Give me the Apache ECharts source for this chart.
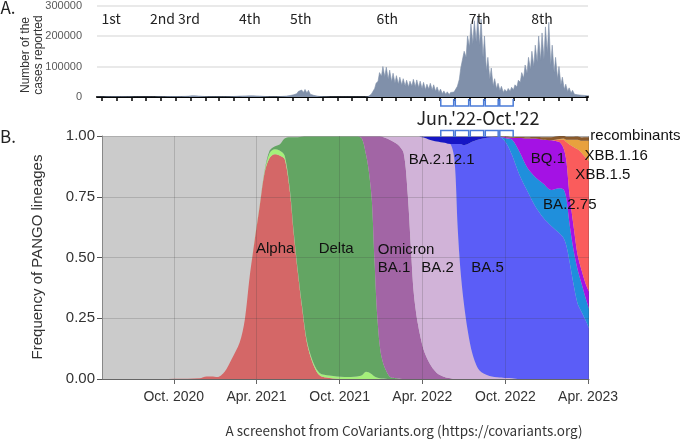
<!DOCTYPE html>
<html>
<head>
<meta charset="utf-8">
<script src="https://cdn.jsdelivr.net/npm/echarts@6/dist/echarts.min.js"></script>
<style>
  html, body { margin: 0; padding: 0; background: #fff; }
  #chart { width: 685px; height: 440px; }
</style>
</head>
<body>
<div id="chart"></div>
<script>
// ---- A. reported cases, one row per week starting on caseStart (thousands) ----
const caseStart = '2020-06-22';
const casesHigh = [
  0.3, 0.4, 0.6, 0.9, 1.1, 1.4, 1.5, 1.4, 1.2, 1.0, 0.8, 0.6, 0.6, 0.6, 0.6, 0.6, 0.7, 0.7, 0.8, 1.0,
  1.6, 2.2, 2.5, 2.5, 2.8, 3.0, 3.5, 4.5, 7.5, 6.5, 5.0, 3.5, 2.5, 1.8, 1.5, 1.3, 1.2, 1.3, 1.5, 1.9,
  2.5, 3.5, 4.5, 5.5, 6.0, 6.5, 7.0, 6.0, 5.0, 3.5, 2.5, 2.0, 1.7, 1.8, 2.5, 3.5, 5.0, 8.0, 12, 18,
  23, 25, 22, 15, 9, 5, 2.5, 1.5, 0.8, 0.5, 0.3, 0.2, 0.2, 0.2, 0.15, 0.15, 0.15, 0.2, 0.3, 0.4,
  2, 15, 45, 80, 100, 98, 88, 78, 70, 65, 60, 55, 52, 58, 56, 52, 48, 42, 45, 40,
  33, 26, 20, 17, 15, 16, 35, 95, 150, 200, 240, 250, 262, 255, 200, 130, 95, 60, 45, 35,
  25, 28, 32, 40, 55, 80, 105, 130, 150, 170, 200, 210, 230, 245, 170, 130, 100, 65, 42, 30,
  22, 15, 12, 10, 8, 6
];
const casesLow = [
  0.2, 0.25, 0.4, 0.6, 0.7, 0.9, 1.0, 0.9, 0.8, 0.6, 0.5, 0.4, 0.4, 0.4, 0.4, 0.4, 0.4, 0.4, 0.5, 0.6,
  1.0, 1.3, 1.5, 1.5, 1.7, 1.8, 2.1, 2.7, 4.5, 4.0, 3.0, 2.1, 1.5, 1.1, 0.9, 0.8, 0.7, 0.8, 0.9, 1.1,
  1.5, 2.1, 2.7, 3.3, 3.6, 3.9, 4.2, 3.6, 3.0, 2.1, 1.5, 1.2, 1.0, 1.1, 1.5, 2.1, 3.0, 4.8, 7, 11,
  14, 15, 13, 9, 5.4, 3, 1.5, 0.9, 0.5, 0.3, 0.2, 0.1, 0.1, 0.1, 0.1, 0.1, 0.1, 0.1, 0.2, 0.2,
  1, 9, 28, 52, 68, 66, 58, 50, 46, 42, 39, 36, 33, 36, 34, 31, 28, 24, 26, 23,
  19, 15, 11, 9, 8, 9, 20, 58, 95, 130, 165, 175, 180, 170, 130, 85, 58, 36, 27, 21,
  15, 17, 19, 24, 33, 48, 62, 78, 90, 100, 115, 120, 125, 145, 105, 80, 60, 40, 25, 18,
  13, 9, 7, 6, 5, 4
];
const waveNames = ['1st', '2nd 3rd', '4th', '5th', '6th', '7th', '8th'];
const waveDates = ['2020-07-21', '2020-11-30', '2021-05-04', '2021-08-17', '2022-02-12', '2022-08-22', '2022-12-29'];
const focusMonths = ['2022-06-01', '2022-07-01', '2022-08-01', '2022-09-01', '2022-10-01', '2022-11-01'];

// ---- B. frequency of PANGO lineages ----
const freqDates = [
  '2020-04-26', '2020-08-09', '2020-11-27', '2020-12-12', '2020-12-23', '2021-01-05', '2021-01-21', '2021-02-05',
  '2021-02-23', '2021-03-06', '2021-03-17', '2021-03-28', '2021-04-08', '2021-04-19', '2021-04-30', '2021-05-11',
  '2021-05-22', '2021-06-02', '2021-06-13', '2021-06-22', '2021-07-01', '2021-07-10', '2021-07-21', '2021-08-03',
  '2021-08-18', '2021-09-09', '2021-10-12', '2021-11-08', '2021-11-19', '2021-11-28', '2021-12-04', '2021-12-11',
  '2021-12-17', '2021-12-24', '2022-01-02', '2022-01-19', '2022-02-06', '2022-02-19', '2022-02-28', '2022-03-07',
  '2022-03-13', '2022-03-22', '2022-04-04', '2022-04-17', '2022-05-03', '2022-05-20', '2022-06-02', '2022-06-11',
  '2022-06-18', '2022-06-24', '2022-07-01', '2022-07-10', '2022-07-21', '2022-08-05', '2022-08-27', '2022-09-18',
  '2022-10-03', '2022-10-16', '2022-11-01', '2022-11-18', '2022-12-06', '2022-12-23', '2023-01-10', '2023-01-28',
  '2023-02-06', '2023-02-12', '2023-02-19', '2023-02-28', '2023-03-09', '2023-03-18', '2023-03-27', '2023-04-03'
];
const alpha = [
  0, 0, 0.003, 0.01, 0.01, 0.008, 0.03, 0.08, 0.15, 0.24, 0.42, 0.57, 0.71, 0.85, 0.91, 0.925,
  0.92, 0.905, 0.78, 0.6, 0.44, 0.3, 0.15, 0.065, 0.015, 0.004, 0, 0, 0, 0, 0, 0,
  0, 0, 0, 0, 0, 0, 0, 0, 0, 0, 0, 0, 0, 0, 0, 0,
  0, 0, 0, 0, 0, 0, 0, 0, 0, 0, 0, 0, 0, 0, 0, 0,
  0, 0, 0, 0, 0, 0, 0, 0
];
const otherDelta = [
  0, 0, 0, 0, 0, 0, 0, 0, 0, 0, 0, 0.003, 0.003, 0.005, 0.02, 0.02,
  0.02, 0.015, 0.01, 0.008, 0.008, 0.008, 0.008, 0.008, 0.01, 0.01, 0.008, 0.01, 0.015, 0.03, 0.028, 0.02,
  0.01, 0.005, 0.002, 0, 0, 0, 0, 0, 0, 0, 0, 0, 0, 0, 0, 0,
  0, 0, 0, 0, 0, 0, 0, 0, 0, 0, 0, 0, 0, 0, 0, 0,
  0, 0, 0, 0, 0, 0, 0, 0
];
const delta = [
  0, 0, 0, 0, 0, 0, 0, 0, 0, 0, 0, 0, 0, 0.003, 0.01, 0.012,
  0.025, 0.07, 0.205, 0.387, 0.547, 0.689, 0.84, 0.925, 0.973, 0.984, 0.99, 0.988, 0.975, 0.895, 0.832, 0.715,
  0.47, 0.225, 0.083, 0.01, 0.002, 0, 0, 0, 0, 0, 0, 0, 0, 0, 0, 0,
  0, 0, 0, 0, 0, 0, 0, 0, 0, 0, 0, 0, 0, 0, 0, 0,
  0, 0, 0, 0, 0, 0, 0, 0
];
const ba1 = [
  0, 0, 0, 0, 0, 0, 0, 0, 0, 0, 0, 0, 0, 0, 0, 0,
  0, 0, 0, 0, 0, 0, 0, 0, 0, 0, 0, 0, 0.008, 0.073, 0.138, 0.263,
  0.518, 0.768, 0.912, 0.975, 0.963, 0.93, 0.76, 0.54, 0.36, 0.23, 0.12, 0.065, 0.025, 0.008, 0.003, 0,
  0, 0, 0, 0, 0, 0, 0, 0, 0, 0, 0, 0, 0, 0, 0, 0,
  0, 0, 0, 0, 0, 0, 0, 0
];
const ba2 = [
  0, 0, 0, 0, 0, 0, 0, 0, 0, 0, 0, 0, 0, 0, 0, 0,
  0, 0, 0, 0, 0, 0, 0, 0, 0, 0, 0, 0, 0, 0, 0, 0,
  0, 0, 0, 0.012, 0.032, 0.067, 0.237, 0.457, 0.637, 0.767, 0.874, 0.92, 0.952, 0.964, 0.964, 0.9,
  0.62, 0.45, 0.32, 0.2, 0.1, 0.035, 0.012, 0.006, 0.004, 0.003, 0, 0, 0, 0, 0, 0,
  0, 0, 0, 0, 0, 0, 0, 0
];
const ba5 = [
  0, 0, 0, 0, 0, 0, 0, 0, 0, 0, 0, 0, 0, 0, 0, 0,
  0, 0, 0, 0, 0, 0, 0, 0, 0, 0, 0, 0, 0, 0, 0, 0,
  0, 0, 0, 0, 0, 0, 0, 0, 0, 0, 0, 0, 0, 0, 0, 0.067,
  0.347, 0.517, 0.642, 0.767, 0.877, 0.952, 0.982, 0.991, 0.966, 0.917, 0.84, 0.775, 0.71, 0.665, 0.63, 0.6,
  0.58, 0.55, 0.485, 0.39, 0.31, 0.275, 0.24, 0.21
];
const ba2121 = [
  0, 0, 0, 0, 0, 0, 0, 0, 0, 0, 0, 0, 0, 0, 0, 0,
  0, 0, 0, 0, 0, 0, 0, 0, 0, 0, 0, 0, 0, 0, 0, 0,
  0, 0, 0, 0, 0, 0, 0, 0, 0, 0, 0.003, 0.012, 0.02, 0.025, 0.03, 0.03,
  0.03, 0.03, 0.035, 0.03, 0.02, 0.01, 0.003, 0, 0, 0, 0, 0, 0, 0, 0, 0,
  0, 0, 0, 0, 0, 0, 0, 0
];
const ba275 = [
  0, 0, 0, 0, 0, 0, 0, 0, 0, 0, 0, 0, 0, 0, 0, 0,
  0, 0, 0, 0, 0, 0, 0, 0, 0, 0, 0, 0, 0, 0, 0, 0,
  0, 0, 0, 0, 0, 0, 0, 0, 0, 0, 0, 0, 0, 0, 0, 0,
  0, 0, 0, 0, 0, 0, 0, 0, 0.02, 0.065, 0.095, 0.095, 0.12, 0.14, 0.148, 0.185,
  0.2, 0.195, 0.155, 0.14, 0.14, 0.115, 0.09, 0.08
];
const bq1 = [
  0, 0, 0, 0, 0, 0, 0, 0, 0, 0, 0, 0, 0, 0, 0, 0,
  0, 0, 0, 0, 0, 0, 0, 0, 0, 0, 0, 0, 0, 0, 0, 0,
  0, 0, 0, 0, 0, 0, 0, 0, 0, 0, 0, 0, 0, 0, 0, 0,
  0, 0, 0, 0, 0, 0, 0, 0, 0.005, 0.008, 0.057, 0.12, 0.16, 0.18, 0.205, 0.19,
  0.17, 0.155, 0.12, 0.1, 0.06, 0.055, 0.06, 0.07
];
const xbb15 = [
  0, 0, 0, 0, 0, 0, 0, 0, 0, 0, 0, 0, 0, 0, 0, 0,
  0, 0, 0, 0, 0, 0, 0, 0, 0, 0, 0, 0, 0, 0, 0, 0,
  0, 0, 0, 0, 0, 0, 0, 0, 0, 0, 0, 0, 0, 0, 0, 0,
  0, 0, 0, 0, 0, 0, 0, 0, 0, 0, 0, 0, 0, 0, 0, 0.01,
  0.035, 0.075, 0.205, 0.325, 0.435, 0.485, 0.52, 0.535
];
const xbb116 = [
  0, 0, 0, 0, 0, 0, 0, 0, 0, 0, 0, 0, 0, 0, 0, 0,
  0, 0, 0, 0, 0, 0, 0, 0, 0, 0, 0, 0, 0, 0, 0, 0,
  0, 0, 0, 0, 0, 0, 0, 0, 0, 0, 0, 0, 0, 0, 0, 0,
  0, 0, 0, 0, 0, 0, 0, 0, 0, 0, 0, 0, 0, 0, 0, 0.003,
  0.005, 0.01, 0.02, 0.03, 0.04, 0.05, 0.07, 0.085
];
const recombinants = [
  0, 0, 0, 0, 0, 0, 0, 0, 0, 0, 0, 0, 0, 0, 0, 0,
  0, 0, 0, 0, 0, 0, 0, 0, 0, 0, 0, 0, 0, 0, 0, 0,
  0, 0, 0, 0, 0, 0, 0, 0, 0, 0, 0, 0, 0, 0, 0, 0,
  0, 0, 0, 0, 0, 0, 0, 0.002, 0.003, 0.003, 0.004, 0.005, 0.006, 0.01, 0.012, 0.012,
  0.01, 0.012, 0.012, 0.012, 0.013, 0.014, 0.015, 0.015
];
const freqTickDates = ['2020-10-01', '2021-04-01', '2021-10-01', '2022-04-01', '2022-10-01', '2023-04-01'];
const freqTickLabels = ['Oct. 2020', 'Apr. 2021', 'Oct. 2021', 'Apr. 2022', 'Oct. 2022', 'Apr. 2023'];

// labels drawn on the areas: [text, date, frequency]
const variantLabels = [
  ['Alpha', '2021-03-31', 0.535], ['Delta', '2021-08-16', 0.535],
  ['Omicron', '2021-12-24', 0.53], ['BA.1', '2021-12-24', 0.457],
  ['BA.2', '2022-03-30', 0.457], ['BA.5', '2022-07-18', 0.457],
  ['BA.2.12.1', '2022-03-02', 0.9], ['BQ.1', '2022-11-26', 0.905],
  ['BA.2.75', '2022-12-23', 0.716], ['XBB.1.5', '2023-03-04', 0.84],
  ['XBB.1.16', '2023-03-24', 0.92], ['recombinants', '2023-04-06', 1.0]
];

const lineages = [
  { name: 'Alpha', data: alpha, color: '#d46767' },
  { name: 'Delta sub', data: otherDelta, color: '#a4f07a' },
  { name: 'Delta', data: delta, color: '#63a563' },
  { name: 'BA.1', data: ba1, color: '#a265a5' },
  { name: 'BA.2', data: ba2, color: '#d1b3d8' },
  { name: 'BA.5', data: ba5, color: '#5b5df7' },
  { name: 'BA.2.12.1', data: ba2121, color: '#1616c4' },
  { name: 'BA.2.75', data: ba275, color: '#1f8fdc' },
  { name: 'BQ.1', data: bq1, color: '#a412e4' },
  { name: 'XBB.1.5', data: xbb15, color: '#fa5c5c' },
  { name: 'XBB.1.16', data: xbb116, color: '#e8a13e' },
  { name: 'recombinants', data: recombinants, color: '#8a5a2c' }
];

const DAY = 86400000;
const toTime = s => +new Date(s.replace(/-/g, '/'));

// two points per week: the low day, then the peak day
const caseData = [];
const startT = toTime(caseStart);
casesHigh.forEach((h, i) => {
  const t = startT + i * 7 * DAY;
  caseData.push([t, casesLow[i] * 1000]);
  caseData.push([t + 3 * DAY, h * 1000]);
});

// monthly ticks on the case axis
const monthTicks = [];
for (let y = 2020, m = 6; y < 2023 || m <= 3; m++) {
  if (m > 11) { m = 0; y++; }
  monthTicks.push(+new Date(y, m, 1));
}
const freqTicks = freqTickDates.map(toTime);
const freqMin = toTime('2020-04-26'), freqMax = toTime('2023-04-03');

const chart = echarts.init(document.getElementById('chart'));
const latin = 'Liberation Sans';
const jp = 'Noto Sans CJK JP';

const option = {
  animation: false,
  grid: [
    { left: 97, top: 5, width: 491, height: 92 },
    { left: 102, top: 136, width: 487, height: 243, show: true, backgroundColor: '#cbcbcb', borderWidth: 0 }
  ],
  xAxis: [
    {
      type: 'value', gridIndex: 0, min: toTime('2020-06-22'), max: toTime('2023-04-03'),
      axisLine: { lineStyle: { color: '#000', width: 2 } },
      axisTick: { show: true, customValues: monthTicks, length: 4, lineStyle: { color: '#000', width: 1.5 } },
      axisLabel: { show: false, customValues: monthTicks },
      splitLine: { show: false }
    },
    // time axis carrying the stacked areas (time values are never stacked)
    {
      type: 'time', gridIndex: 1, min: freqMin, max: freqMax, show: false,
      axisLine: { show: false }, axisTick: { show: false }, axisLabel: { show: false }, splitLine: { show: false }
    },
    // same span, drawn with the Apr/Oct ticks
    {
      type: 'value', gridIndex: 1, min: freqMin, max: freqMax, position: 'bottom', z: 5,
      axisLine: { lineStyle: { color: '#666', width: 1 } },
      axisTick: { show: true, customValues: freqTicks, length: 5, lineStyle: { color: '#666' } },
      axisLabel: {
        customValues: freqTicks, color: '#333', fontSize: 14, fontFamily: latin, margin: 11,
        formatter: v => freqTickLabels[freqTicks.indexOf(v)] || ''
      },
      splitLine: { show: true, lineStyle: { color: 'rgba(60,60,60,0.2)', width: 1 } }
    }
  ],
  yAxis: [
    {
      type: 'value', gridIndex: 0, min: 0, max: 300000, interval: 100000,
      axisLine: { show: false }, axisTick: { show: false },
      axisLabel: { color: '#595959', fontSize: 11, fontFamily: latin, margin: 15, formatter: v => String(v) },
      splitLine: { lineStyle: { color: '#e2e2e2', width: 1.5 } }
    },
    {
      type: 'value', gridIndex: 1, min: 0, max: 1, interval: 0.25, z: 5,
      axisLine: { show: true, lineStyle: { color: '#888' } },
      axisTick: { show: true, length: 5, lineStyle: { color: '#555' } },
      axisLabel: { color: '#333', fontSize: 15, fontFamily: latin, margin: 7, formatter: v => v.toFixed(2) },
      splitLine: { lineStyle: { color: 'rgba(60,60,60,0.2)', width: 1 } }
    }
  ],
  series: [
    {
      name: 'cases', type: 'line', xAxisIndex: 0, yAxisIndex: 0, data: caseData,
      showSymbol: false, symbol: 'none', silent: true,
      lineStyle: { width: 0.6, color: '#8090aa' },
      areaStyle: { color: '#8090aa', opacity: 1 }
    }
  ].concat(lineages.map(l => ({
    name: l.name, type: 'line', xAxisIndex: 1, yAxisIndex: 1, stack: 'freq',
    data: freqDates.map((d, i) => [toTime(d), l.data[i]]),
    smooth: 0.3, showSymbol: false, symbol: 'none', silent: true,
    lineStyle: { width: 0, color: l.color },
    itemStyle: { color: l.color },
    areaStyle: { color: l.color, opacity: 1 }
  })))
};
chart.setOption(option);

// annotations placed from data coordinates
const graphic = [];
const text = (x, y, str, size, font, fill, extra) => Object.assign({
  type: 'text', x: x, y: y, silent: true, z: 20,
  style: { text: str, fontSize: size, fontFamily: font, fill: fill || '#222', align: 'center', verticalAlign: 'middle', lineHeight: Math.round(size * 1.1) }
}, extra || {});

graphic.push(text(8, 8, 'A.', 17, jp));
graphic.push(text(8, 137, 'B.', 17, jp));
graphic.push(text(32, 55, 'Number of the\ncases reported', 12, latin, '#333', { rotation: Math.PI / 2 }));
graphic.push(text(38, 257, 'Frequency of PANGO lineages', 15, latin, '#333', { rotation: Math.PI / 2 }));

waveNames.forEach((w, i) => {
  const p = chart.convertToPixel({ xAxisIndex: 0, yAxisIndex: 0 }, [toTime(waveDates[i]), 257000]);
  graphic.push(text(p[0], p[1], w, 14, jp));
});

const mx = focusMonths.map(d => chart.convertToPixel({ xAxisIndex: 0, yAxisIndex: 0 }, [toTime(d), 0])[0]);
for (let i = 0; i < mx.length - 1; i++) {
  const a = mx[i] + 0.8, b = mx[i + 1] - 0.8;
  graphic.push({ type: 'polyline', silent: true, z: 20, shape: { points: [[a, 99], [a, 106], [b, 106], [b, 99]] },
    style: { stroke: '#4a7bd8', lineWidth: 1.5, fill: null } });
  graphic.push({ type: 'polyline', silent: true, z: 20, shape: { points: [[a, 137], [a, 130.5], [b, 130.5], [b, 137]] },
    style: { stroke: '#4a7bd8', lineWidth: 1.5, fill: null } });
}
graphic.push(text((mx[0] + mx[mx.length - 1]) / 2 + 1, 118, "Jun.'22-Oct.'22", 18, jp));

variantLabels.forEach(v => {
  const p = chart.convertToPixel({ xAxisIndex: 2, yAxisIndex: 1 }, [toTime(v[1]), v[2]]);
  const t = text(p[0], p[1], v[0], 15, latin, '#111');
  t.style.align = 'left';
  graphic.push(t);
});

graphic.push(text(404, 431, 'A screenshot from CoVariants.org (https://covariants.org)', 13.5, jp, '#333'));

chart.setOption({ graphic: graphic });
</script>
</body>
</html>
